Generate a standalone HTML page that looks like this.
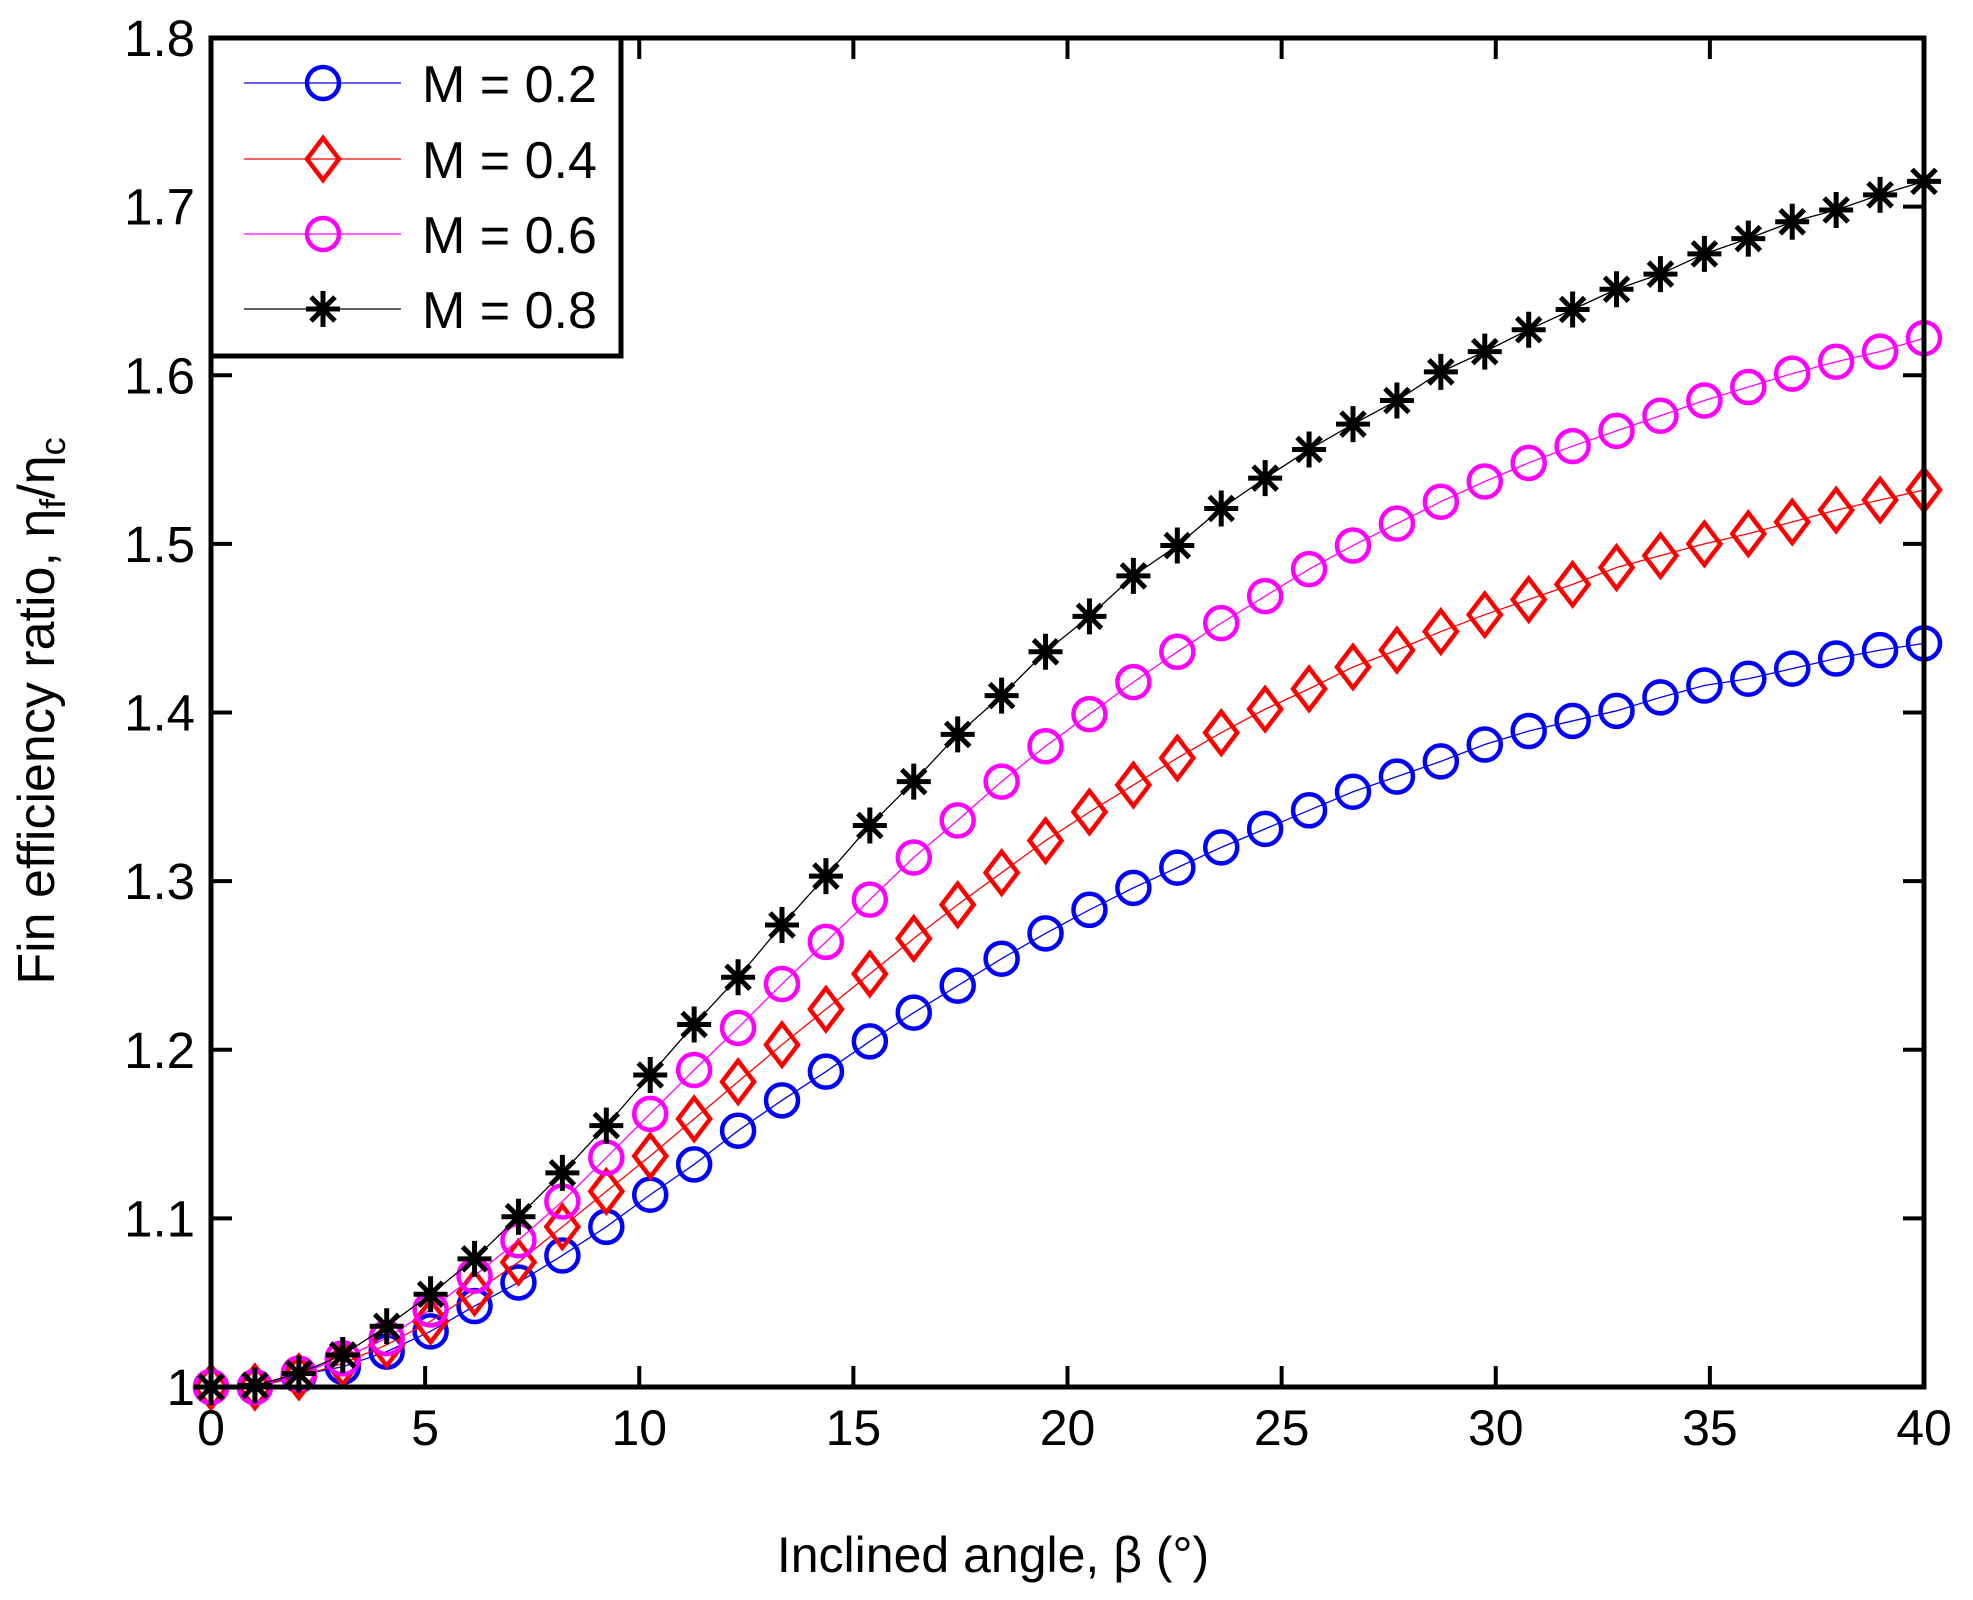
<!DOCTYPE html>
<html><head><meta charset="utf-8"><style>body{margin:0;background:#fff}svg{display:block}text{font-family:"Liberation Sans",sans-serif;fill:#000}</style></head>
<body>
<svg id="chart" width="1973" height="1600" viewBox="0 0 1973 1600" xmlns="http://www.w3.org/2000/svg">
<rect width="1973" height="1600" fill="#fff"/>
<g id="marks"></g>
<g id="axes"></g>
<g id="legend"></g>
<text x="993" y="1572" font-size="50" text-anchor="middle">Inclined angle, β (°)</text>
<text transform="translate(54,711) rotate(-90)" font-size="52" text-anchor="middle">Fin efficiency ratio, η<tspan font-size="36" dy="11">f</tspan><tspan dy="-11">/η</tspan><tspan font-size="36" dy="11">c</tspan></text>
</svg>
<script>
const xTicks=[0,5,10,15,20,25,30,35,40];
const yTicks=[1,1.1,1.2,1.3,1.4,1.5,1.6,1.7,1.8];
const yTickLabels=["1","1.1","1.2","1.3","1.4","1.5","1.6","1.7","1.8"];
const seriesNames=["M = 0.2","M = 0.4","M = 0.6","M = 0.8"];
const angles=Array.from({length:40},(_,i)=>i*40/39);
const m02=[1.0,1.0,1.007,1.012,1.021,1.033,1.048,1.062,1.078,1.095,1.114,1.132,1.152,1.170,1.187,1.205,1.222,1.238,1.254,1.269,1.283,1.296,1.308,1.320,1.331,1.342,1.353,1.362,1.371,1.381,1.389,1.395,1.401,1.409,1.416,1.420,1.426,1.432,1.437,1.441];
const m04=[1.0,1.0,1.006,1.014,1.025,1.039,1.056,1.074,1.095,1.116,1.137,1.159,1.181,1.203,1.224,1.245,1.266,1.286,1.305,1.324,1.341,1.357,1.373,1.388,1.402,1.414,1.427,1.437,1.448,1.458,1.467,1.476,1.486,1.493,1.500,1.506,1.513,1.520,1.526,1.532];
const m06=[1.0,1.0,1.008,1.017,1.029,1.046,1.066,1.087,1.110,1.136,1.162,1.188,1.213,1.239,1.264,1.289,1.314,1.336,1.359,1.380,1.399,1.418,1.436,1.453,1.469,1.485,1.499,1.512,1.525,1.537,1.548,1.558,1.567,1.576,1.585,1.593,1.601,1.608,1.614,1.622];
const m08=[1.0,1.001,1.008,1.019,1.036,1.055,1.076,1.101,1.127,1.155,1.185,1.215,1.243,1.274,1.303,1.333,1.359,1.387,1.410,1.436,1.457,1.481,1.499,1.521,1.539,1.556,1.571,1.585,1.602,1.614,1.627,1.639,1.651,1.660,1.672,1.681,1.691,1.698,1.707,1.715];

const NS="http://www.w3.org/2000/svg";
const L=211,R=1924,T=38,B=1387;
const xs=v=>L+(v-0)/(40-0)*(R-L);
const ys=v=>B-(v-1)/(0.8)*(B-T);
function mk(tag,at,parent){const e=document.createElementNS(NS,tag);for(const k in at)e.setAttribute(k,at[k]);parent.appendChild(e);return e;}
const marks=document.getElementById('marks'),axes=document.getElementById('axes'),legend=document.getElementById('legend');
const colors=["#0000ff","#ff0000","#ff00ff","#000000"];
const types=["circle","diamond","circle","star"];
function marker(type,x,y,c,g){
  let e;
  if(type==="circle"){e=mk('circle',{cx:x,cy:y,r:16,fill:'none',stroke:c,'stroke-width':4.5},g);}
  else if(type==="diamond"){e=mk('path',{d:`M${x} ${y-21}L${x+16} ${y}L${x} ${y+21}L${x-16} ${y}Z`,fill:'none',stroke:c,'stroke-width':4.5},g);}
  else{e=mk('path',{d:`M${x} ${y-18}V${y+18}M${x-17} ${y}H${x+17}M${x-12} ${y-12}L${x+12} ${y+12}M${x-12} ${y+12}L${x+12} ${y-12}`,fill:'none',stroke:c,'stroke-width':5},g);}
  return e;
}
const data=[m02,m04,m06,m08];
data.forEach((s,si)=>{
  const g=mk('g',{},marks);
  
  
  const ln=mk('polyline',{points:s.map((v,i)=>xs(angles[i])+','+ys(v)).join(' '),fill:'none',stroke:colors[si],'stroke-width':1.3},g);
  
  
  s.forEach((v,i)=>{const m=marker(types[si],xs(angles[i]),ys(v),colors[si],g);
    
    });
});
const frame=mk('rect',{x:L,y:T,width:R-L,height:B-T,fill:'none',stroke:'#000','stroke-width':5},axes);


xTicks.forEach(v=>{const x=xs(v);
  mk('line',{x1:x,y1:B,x2:x,y2:B-21,stroke:'#000','stroke-width':4},axes);
  mk('line',{x1:x,y1:T,x2:x,y2:T+21,stroke:'#000','stroke-width':4},axes);
  const t=mk('text',{x:x,y:1445,'font-size':50,'text-anchor':'middle'},axes);t.textContent=v;
  
  });
yTicks.forEach((v,i)=>{const y=ys(v);
  mk('line',{x1:L,y1:y,x2:L+21,y2:y,stroke:'#000','stroke-width':4},axes);
  mk('line',{x1:R,y1:y,x2:R-21,y2:y,stroke:'#000','stroke-width':4},axes);
  const t=mk('text',{x:195,y:y+18,'font-size':51,'text-anchor':'end'},axes);t.textContent=yTickLabels[i];
  
  });
const box=mk('rect',{x:L,y:T,width:410,height:318,fill:'#fff',stroke:'#000','stroke-width':5},legend);


const rowsY=[83,159,234,309];
seriesNames.forEach((n,i)=>{
  const g=mk('g',{},legend);
  
  
  mk('line',{x1:244,y1:rowsY[i],x2:401,y2:rowsY[i],stroke:colors[i],'stroke-width':1.3},g);
  marker(types[i],323,rowsY[i],colors[i],g);
  const t=mk('text',{x:422,y:rowsY[i]+19,'font-size':52},g);t.textContent=n;
});
</script>
</body></html>
